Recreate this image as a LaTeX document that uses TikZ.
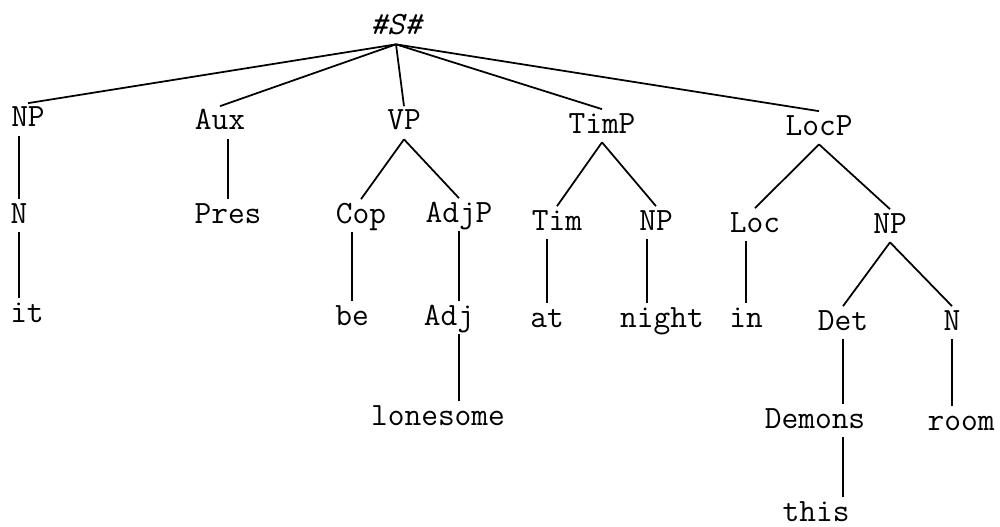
\documentclass[tikz,border=0pt]{standalone}
\usepackage{fontspec}
\begin{document}
\begin{tikzpicture}[x=0.02cm,y=-0.02cm,
  lab/.style={anchor=base,inner xsep=1pt,inner ysep=0.08cm,text height=0.39cm,text depth=0.1cm,font=\fontsize{18.5}{20}\selectfont\ttfamily},
  br/.style={line width=1pt}]
\useasboundingbox (0,0) rectangle (1000,527);
% top
\node[lab](s) at (396,35) {\itshape\#S\#};
% first level
\node[lab](np1) at (28,127) {NP};
\node[lab](aux) at (220,130) {Aux};
\node[lab](vp) at (404,130) {VP};
\node[lab](timp) at (602,133) {TimP};
\node[lab](locp) at (819,135) {LocP};
% second level
\node[lab](n1) at (19,223) {N};
\node[lab](pres) at (228,223) {Pres};
\node[lab](cop) at (361,223) {Cop};
\node[lab](adjp) at (459,222) {AdjP};
\node[lab](tim) at (557,230) {Tim};
\node[lab](np2) at (656,230) {NP};
\node[lab](loc) at (755,232) {Loc};
\node[lab](np3) at (890,233) {NP};
% third level
\node[lab](it) at (27,322) {it};
\node[lab](be) at (352,325) {be};
\node[lab](adj) at (449,325) {Adj};
\node[lab](at) at (547,327) {at};
\node[lab](night) at (662,327) {night};
\node[lab](in) at (746,327) {in};
\node[lab](det) at (843,330) {Det};
\node[lab](n2) at (952,330) {N};
% lowest
\node[lab](lone) at (438,425) {lonesome};
\node[lab](dem) at (815,428) {Demons};
\node[lab](room) at (961,430) {room};
\node[lab](this) at (816,521) {this};
% branches
\draw[br] (s.south) -- (np1.north);
\draw[br] (s.south) -- (aux.north);
\draw[br] (s.south) -- (vp.north);
\draw[br] (s.south) -- (timp.north);
\draw[br] (s.south) -- (locp.north);
\draw[br] (vp.south) -- (cop.north);
\draw[br] (vp.south) -- (adjp.north);
\draw[br] (timp.south) -- (tim.north);
\draw[br] (timp.south) -- (np2.north);
\draw[br] (locp.south) -- (loc.north);
\draw[br] (locp.south) -- (np3.north);
\draw[br] (np3.south) -- (det.north);
\draw[br] (np3.south) -- (n2.north);
% vertical ones
\draw[br] (np1.south -| n1) -- (n1.north);
\draw[br] (n1.south) -- (it.north -| n1);
\draw[br] (aux.south -| pres) -- (pres.north);
\draw[br] (cop.south -| be) -- (be.north);
\draw[br] (adjp.south) -- (adj.north -| adjp);
\draw[br] (adj.south -| adjp) -- (lone.north -| adjp);
\draw[br] (tim.south -| at) -- (at.north);
\draw[br] ([xshift=-0.18cm]np2.south) -- ([xshift=-0.18cm]np2.south |- night.north);
\draw[br] (loc.south -| in) -- (in.north);
\draw[br] (det.south) -- (dem.north -| det);
\draw[br] (n2.south) -- (room.north -| n2);
\draw[br] (dem.south -| det) -- (this.north -| det);
\end{tikzpicture}
\end{document}
